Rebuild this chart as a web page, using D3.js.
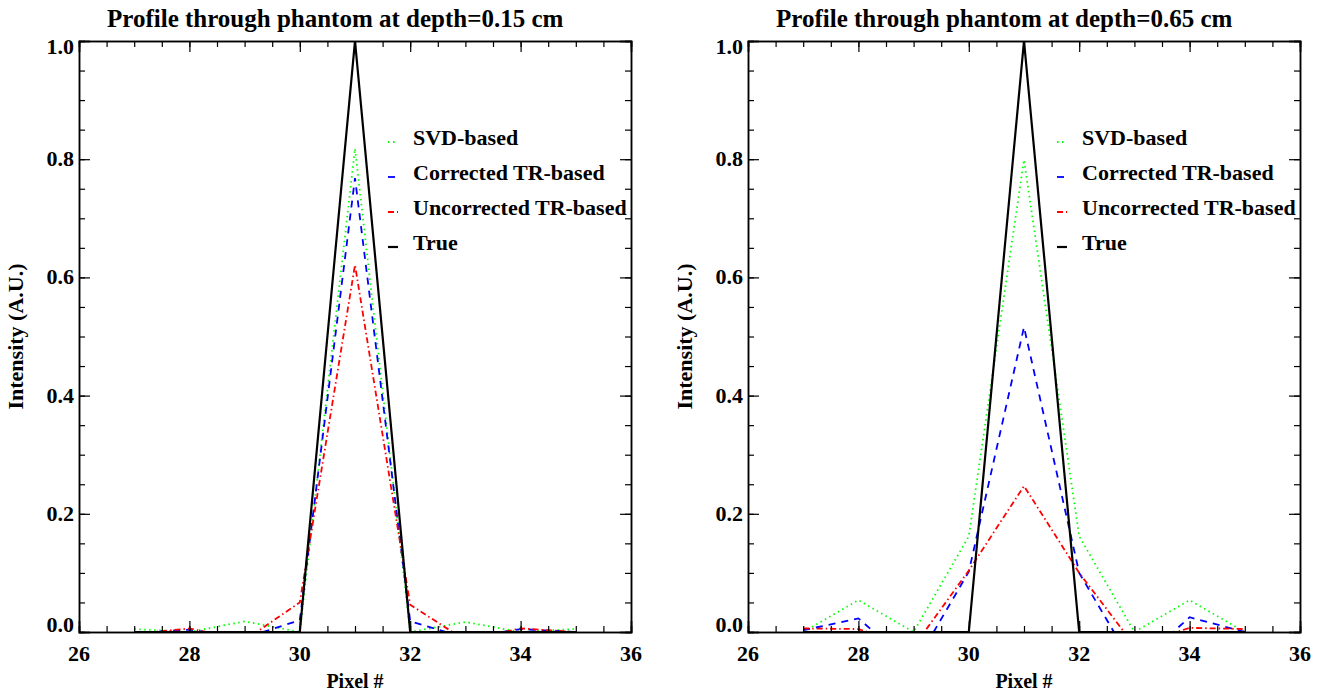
<!DOCTYPE html>
<html>
<head>
<meta charset="utf-8">
<script src="https://cdn.jsdelivr.net/npm/d3@7"></script>
<style>
  body { margin: 0; background: #fff; }
  svg { display: block; }
  text { font-family: "Liberation Serif", "DejaVu Serif", serif; font-weight: bold; fill: #000; }
</style>
</head>
<body>
<svg id="chart" width="1317" height="694"></svg>
<script>
// pixel positions along the profile
var pixels = [27, 28, 29, 30, 31, 32, 33, 34, 35];

// depth = 0.15 cm
var svd015 = [0.005, 0.000, 0.018, 0.000, 0.818, 0.000, 0.017, 0.000, 0.005];
var corr015 = [-0.002, 0.004, -0.010, 0.020, 0.768, 0.018, -0.010, 0.005, 0.000];
var uncorr015 = [-0.003, 0.006, -0.014, 0.050, 0.621, 0.046, -0.014, 0.006, 0.000];
var true015 = [0, 0, 0, 0, 1, 0, 0, 0, 0];

// depth = 0.65 cm
var svd065 = [0.000, 0.054, 0.000, 0.162, 0.799, 0.162, 0.000, 0.054, 0.000];
var corr065 = [0.003, 0.023, -0.058, 0.102, 0.516, 0.100, -0.059, 0.025, 0.000];
var uncorr065 = [0.006, 0.005, -0.025, 0.104, 0.247, 0.100, -0.023, 0.007, 0.005];
var true065 = [0, 0, 0, 0, 1, 0, 0, 0, 0];

var xTicks = [26, 28, 30, 32, 34, 36];
var yTicks = [0.0, 0.2, 0.4, 0.6, 0.8, 1.0];
var legendNames = ['SVD-based', 'Corrected TR-based', 'Uncorrected TR-based', 'True'];
var titles = ['Profile through phantom at depth=0.15 cm', 'Profile through phantom at depth=0.65 cm'];

var styles = [
  { color: '#00ff00', dash: '1.5,3.5', width: 1.8 },
  { color: '#0000ff', dash: '7,6', width: 1.8 },
  { color: '#ff0000', dash: '6,3,1.5,3', width: 1.8 },
  { color: '#000000', dash: null, width: 2.2 }
];

var panels = [
  { left: 79, series: [svd015, corr015, uncorr015, true015], title: titles[0], legendX: 388 },
  { left: 748, series: [svd065, corr065, uncorr065, true065], title: titles[1], legendX: 1057 }
];

var svg = d3.select('#chart');
var plotTop = 41, plotBottom = 632, plotW = 552;

panels.forEach(function(p, pi){

  var x = d3.scaleLinear().domain([26, 36]).range([p.left, p.left + plotW]);
  var y = d3.scaleLinear().domain([0, 1]).range([plotBottom, plotTop]);

  var g = svg.append('g');

  g.append('clipPath').attr('id', 'clip' + pi)
    .append('rect')
    .attr('x', p.left).attr('y', plotTop)
    .attr('width', plotW).attr('height', plotBottom - plotTop);

  var line = d3.line()
    .x(function(d, i){ return x(pixels[i]); })
    .y(function(d){ return y(d); });

  var lines = g.append('g').attr('clip-path', 'url(#clip' + pi + ')');
  p.series.forEach(function(s, si){
    lines.append('path')
      .attr('d', line(s))
      .attr('fill', 'none')
      .attr('stroke', styles[si].color)
      .attr('stroke-width', styles[si].width)
      .attr('stroke-dasharray', styles[si].dash);
  });

  // axes: major + minor ticks on all four sides
  var xMinor = d3.range(26, 36.01, 0.5);
  var yMinor = d3.range(0, 1.001, 0.05);

  function axis(gen, scale, tickVals, size, tr){
    g.append('g').attr('transform', tr)
      .call(gen(scale).tickValues(tickVals).tickSize(size).tickFormat(''))
      .call(function(a){
        a.select('.domain').attr('stroke', '#000').attr('stroke-width', 1.5);
        a.selectAll('.tick line').attr('stroke', '#000').attr('stroke-width', 1.2);
      });
  }
  // minor
  axis(d3.axisTop, x, xMinor, 6, 'translate(0,' + plotBottom + ')');
  axis(d3.axisBottom, x, xMinor, 6, 'translate(0,' + plotTop + ')');
  axis(d3.axisRight, y, yMinor, 6, 'translate(' + p.left + ',0)');
  axis(d3.axisLeft, y, yMinor, 6, 'translate(' + (p.left + plotW) + ',0)');
  // major
  axis(d3.axisTop, x, xTicks, 11, 'translate(0,' + plotBottom + ')');
  axis(d3.axisBottom, x, xTicks, 11, 'translate(0,' + plotTop + ')');
  axis(d3.axisRight, y, yTicks, 11, 'translate(' + p.left + ',0)');
  axis(d3.axisLeft, y, yTicks, 11, 'translate(' + (p.left + plotW) + ',0)');

  // tick labels
  g.selectAll('.xl').data(xTicks).enter().append('text')
    .attr('x', function(d){ return x(d); })
    .attr('y', 661)
    .attr('text-anchor', 'middle')
    .attr('font-size', 22)
    .text(function(d){ return d; });

  g.selectAll('.yl').data(yTicks).enter().append('text')
    .attr('x', p.left - 5)
    .attr('y', function(d){ return Math.min(Math.max(y(d), 47), 625) + 7; })
    .attr('text-anchor', 'end')
    .attr('font-size', 22)
    .text(function(d){ return d3.format('.1f')(d); });

  // titles
  g.append('text')
    .attr('x', p.left + 28).attr('y', 27)
    .attr('font-size', 25)
    .text(p.title);

  g.append('text')
    .attr('x', p.left + plotW / 2).attr('y', 688)
    .attr('text-anchor', 'middle')
    .attr('font-size', 20)
    .text('Pixel #');

  g.append('text')
    .attr('transform', 'translate(' + (p.left - 56) + ',' + ((plotTop + plotBottom) / 2) + ') rotate(-90)')
    .attr('text-anchor', 'middle')
    .attr('font-size', 22)
    .text('Intensity (A.U.)');

  // legend
  legendNames.forEach(function(name, li){
    var ly = 138 + li * 35;
    g.append('line')
      .attr('x1', p.legendX).attr('x2', p.legendX + 10)
      .attr('y1', ly + 4).attr('y2', ly + 4)
      .attr('stroke', styles[li].color)
      .attr('stroke-width', styles[li].width)
      .attr('stroke-dasharray', styles[li].dash);
    g.append('text')
      .attr('x', p.legendX + 25).attr('y', ly + 7)
      .attr('font-size', 22)
      .text(name);
  });
});
</script>
</body>
</html>
